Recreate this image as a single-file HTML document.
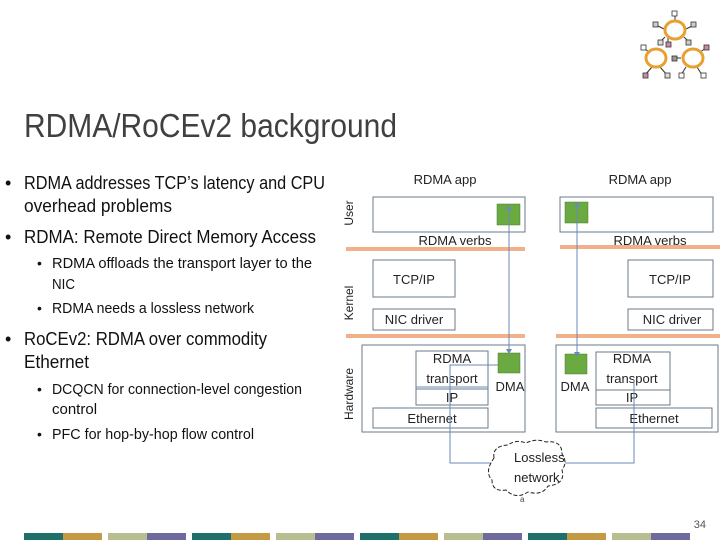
<!DOCTYPE html>
<html><head><meta charset="utf-8"><style>
html,body{margin:0;padding:0;background:#fff}
svg{display:block}
text{font-family:"Liberation Sans",sans-serif}
</style></head><body>
<svg width="720" height="540" viewBox="0 0 720 540" xmlns="http://www.w3.org/2000/svg">
<g stroke="#333" stroke-width="1">
<line x1="675" y1="15" x2="675" y2="22"/><line x1="656" y1="25" x2="664" y2="29"/><line x1="694" y1="25" x2="686" y2="29"/>
<line x1="660" y1="42" x2="665" y2="37"/><line x1="668" y1="43" x2="668" y2="38"/><line x1="688" y1="41" x2="684" y2="37"/>
<line x1="644" y1="48" x2="650" y2="53"/><line x1="673" y1="58" x2="681" y2="58"/><line x1="645" y1="75" x2="652" y2="67"/>
<line x1="667" y1="75" x2="660" y2="67"/><line x1="681" y1="75" x2="686" y2="67"/><line x1="702" y1="75" x2="697" y2="67"/><line x1="706" y1="48" x2="700" y2="52"/>
</g>
<g fill="none" stroke="#e8a030" stroke-width="3">
<ellipse cx="675" cy="30" rx="10" ry="9"/><ellipse cx="656" cy="58" rx="10" ry="9"/><ellipse cx="693" cy="58" rx="10" ry="9"/>
</g>
<g stroke="#333" stroke-width="0.8">
<rect x="672" y="11" width="5" height="5" fill="#fff"/><rect x="653" y="22" width="5" height="5" fill="#ccc"/><rect x="691" y="22" width="5" height="5" fill="#ccc"/>
<rect x="658" y="40" width="5" height="5" fill="#ddd"/><rect x="666" y="42" width="5" height="5" fill="#c8a"/><rect x="686" y="40" width="5" height="5" fill="#ccc"/>
<rect x="641" y="45" width="5" height="5" fill="#fff"/><rect x="704" y="45" width="5" height="5" fill="#c8a"/><rect x="672" y="56" width="5" height="5" fill="#999"/>
<rect x="643" y="73" width="5" height="5" fill="#c8a"/><rect x="665" y="73" width="5" height="5" fill="#ddd"/><rect x="679" y="73" width="5" height="5" fill="#fff"/><rect x="701" y="73" width="5" height="5" fill="#fff"/>
</g>
<text x="24" y="137" font-size="33" fill="#404040" textLength="373" lengthAdjust="spacingAndGlyphs">RDMA/RoCEv2 background</text>
<g fill="#111">
<text x="5" y="189" font-size="18">•</text>
<text x="24" y="189" font-size="18" textLength="301" lengthAdjust="spacingAndGlyphs">RDMA addresses TCP’s latency and CPU</text>
<text x="24" y="212" font-size="18" textLength="148" lengthAdjust="spacingAndGlyphs">overhead problems</text>
<text x="5" y="243" font-size="18">•</text>
<text x="24" y="243" font-size="18" textLength="292" lengthAdjust="spacingAndGlyphs">RDMA: Remote Direct Memory Access</text>
<text x="37" y="268" font-size="14">•</text>
<text x="52" y="268" font-size="15" textLength="260" lengthAdjust="spacingAndGlyphs">RDMA offloads the transport layer to the</text>
<text x="52" y="289" font-size="15" textLength="23" lengthAdjust="spacingAndGlyphs">NIC</text>
<text x="37" y="313" font-size="14">•</text>
<text x="52" y="313" font-size="15" textLength="202" lengthAdjust="spacingAndGlyphs">RDMA needs a lossless network</text>
<text x="5" y="345" font-size="18">•</text>
<text x="24" y="345" font-size="18" textLength="243" lengthAdjust="spacingAndGlyphs">RoCEv2: RDMA over commodity</text>
<text x="24" y="368" font-size="18" textLength="65" lengthAdjust="spacingAndGlyphs">Ethernet</text>
<text x="37" y="394" font-size="14">•</text>
<text x="52" y="394" font-size="15" textLength="250" lengthAdjust="spacingAndGlyphs">DCQCN for connection-level congestion</text>
<text x="52" y="414" font-size="15">control</text>
<text x="37" y="439" font-size="14">•</text>
<text x="52" y="439" font-size="15" textLength="202" lengthAdjust="spacingAndGlyphs">PFC for hop-by-hop flow control</text>
</g>
<g fill="#222" font-size="12">
<text transform="translate(353,213) rotate(-90)" text-anchor="middle">User</text>
<text transform="translate(353,303) rotate(-90)" text-anchor="middle">Kernel</text>
<text transform="translate(353,394) rotate(-90)" text-anchor="middle">Hardware</text>
</g>
<g fill="#f0b08a">
<rect x="346" y="247" width="179" height="4"/><rect x="560" y="245" width="160" height="4"/>
<rect x="346" y="334" width="179" height="4"/><rect x="556" y="334" width="164" height="4"/>
</g>
<g fill="none" stroke="#6a7a88" stroke-width="1">
<rect x="373" y="197" width="152" height="35"/><rect x="560" y="197" width="153" height="35"/>
<rect x="373" y="260" width="82" height="37"/><rect x="628" y="260" width="85" height="37"/>
<rect x="373" y="309" width="82" height="21"/><rect x="628" y="309" width="85" height="21"/>
<rect x="362" y="345" width="163" height="87"/><rect x="556" y="345" width="162" height="87"/>
<rect x="416" y="351" width="72" height="38"/><rect x="416" y="389" width="72" height="16"/>
<rect x="373" y="408" width="115" height="20"/>
<rect x="596" y="352" width="74" height="38"/><rect x="596" y="390" width="74" height="15"/>
<rect x="596" y="408" width="116" height="20"/>
</g>
<g fill="#6aaa40" stroke="#4a7a30" stroke-width="0.5">
<rect x="497" y="204" width="23" height="21"/><rect x="565" y="202" width="23" height="21"/>
<rect x="498" y="353" width="22" height="20"/><rect x="565" y="354" width="22" height="20"/>
</g>
<g fill="#222" font-size="13" text-anchor="middle">
<text x="445" y="184">RDMA app</text><text x="640" y="184">RDMA app</text>
<text x="455" y="245">RDMA verbs</text><text x="650" y="245">RDMA verbs</text>
<text x="414" y="284">TCP/IP</text><text x="670" y="284">TCP/IP</text>
<text x="414" y="324">NIC driver</text><text x="672" y="324">NIC driver</text>
<text x="452" y="363">RDMA</text><text x="452" y="383">transport</text><text x="452" y="402">IP</text>
<text x="432" y="423">Ethernet</text>
<text x="510" y="391">DMA</text><text x="575" y="391">DMA</text>
<text x="632" y="363">RDMA</text><text x="632" y="383">transport</text><text x="632" y="402">IP</text>
<text x="654" y="423">Ethernet</text>
</g>
<g fill="none" stroke="#6a8ab8" stroke-width="1">
<line x1="509" y1="207" x2="509" y2="352"/><line x1="577" y1="205" x2="577" y2="355"/>
<polyline points="416,387 488,387"/>
<polyline points="498,365 450,365 450,463 495,463"/>
<polyline points="560,463 634,463 634,380"/>
</g>
<g fill="#6a8ab8">
<path d="M509,205 l-3,5 h6z"/><path d="M509,354 l-3,-5 h6z"/>
<path d="M577,202 l-3,5 h6z"/><path d="M577,357 l-3,-5 h6z"/>
</g>
<path d="M494,458 q-2,-12 14,-13 q8,-6 18,-2 q10,-5 20,-1 q16,-2 16,12 q6,8 0,16 q4,14 -14,16 q-6,10 -20,6 q-12,8 -22,-2 q-14,2 -14,-10 q-8,-8 2,-22z" fill="#fff" stroke="#222" stroke-width="1" stroke-dasharray="4,2"/>
<text x="514" y="462" font-size="13" fill="#222">Lossless</text>
<text x="514" y="482" font-size="13" fill="#222">network</text>
<text x="520" y="502" font-size="8" fill="#444">a</text>
<text x="706" y="528" font-size="11" fill="#555" text-anchor="end">34</text>
<g>
<rect x="24" y="533" width="39" height="7" fill="#1f6f6a"/><rect x="63" y="533" width="39" height="7" fill="#c49a45"/>
<rect x="108" y="533" width="39" height="7" fill="#b8bd92"/><rect x="147" y="533" width="39" height="7" fill="#6e6a9e"/>
<rect x="192" y="533" width="39" height="7" fill="#1f6f6a"/><rect x="231" y="533" width="39" height="7" fill="#c49a45"/>
<rect x="276" y="533" width="39" height="7" fill="#b8bd92"/><rect x="315" y="533" width="39" height="7" fill="#6e6a9e"/>
<rect x="360" y="533" width="39" height="7" fill="#1f6f6a"/><rect x="399" y="533" width="39" height="7" fill="#c49a45"/>
<rect x="444" y="533" width="39" height="7" fill="#b8bd92"/><rect x="483" y="533" width="39" height="7" fill="#6e6a9e"/>
<rect x="528" y="533" width="39" height="7" fill="#1f6f6a"/><rect x="567" y="533" width="39" height="7" fill="#c49a45"/>
<rect x="612" y="533" width="39" height="7" fill="#b8bd92"/><rect x="651" y="533" width="39" height="7" fill="#6e6a9e"/>
</g>
</svg>
</body></html>
